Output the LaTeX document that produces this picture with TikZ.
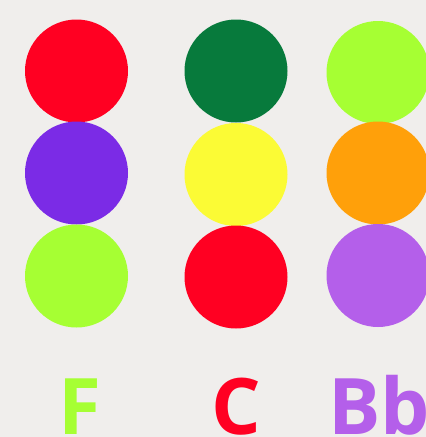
\documentclass[tikz,border=0pt]{standalone}
\usepackage{fontspec}
\setmainfont{Open Sans}[BoldFont={* Bold}]
\definecolor{bg}{HTML}{F0EEEC}
\definecolor{cred}{HTML}{FF0022}
\definecolor{cpurple}{HTML}{7B2BE6}
\definecolor{clime}{HTML}{A6FF33}
\definecolor{cgreen}{HTML}{077A3C}
\definecolor{cyellow}{HTML}{FBFB35}
\definecolor{corange}{HTML}{FFA00A}
\definecolor{clav}{HTML}{B45FEA}
\tikzset{
  dot/.style={circle, inner sep=0pt, minimum size=103pt, fill=#1},
  lbl/.style={anchor=base, text=#1, font=\fontsize{78}{78}\selectfont\bfseries, inner sep=0pt}
}
\begin{document}
\begin{tikzpicture}[x=1pt,y=-1pt]
\fill[bg] (0,0) rectangle (426,437);
\useasboundingbox (0,0) rectangle (426,437);
\begin{scope}
\clip (0,0) rectangle (426,437);
\node[dot=cred]    (a1) at (76.5,71) {};
\node[dot=cpurple] (a2) at (76.5,173) {};
\node[dot=clime]   (a3) at (76.5,276) {};
\node[dot=cgreen]  (b1) at (236,71) {};
\node[dot=cyellow] (b2) at (236,174.5) {};
\node[dot=cred]    (b3) at (236,277) {};
\node[dot=clime]   (c1) at (378,72.5) {};
\node[dot=corange] (c2) at (378,173) {};
\node[dot=clav]    (c3) at (378,275.5) {};
\node[lbl=clime] (lf) at (79.5,434) {F};
\node[lbl=cred]  (lc) at (236.5,434) {C};
\node[lbl=clav]  (lb) at (379,434) {Bb};
\end{scope}
\end{tikzpicture}
\end{document}
